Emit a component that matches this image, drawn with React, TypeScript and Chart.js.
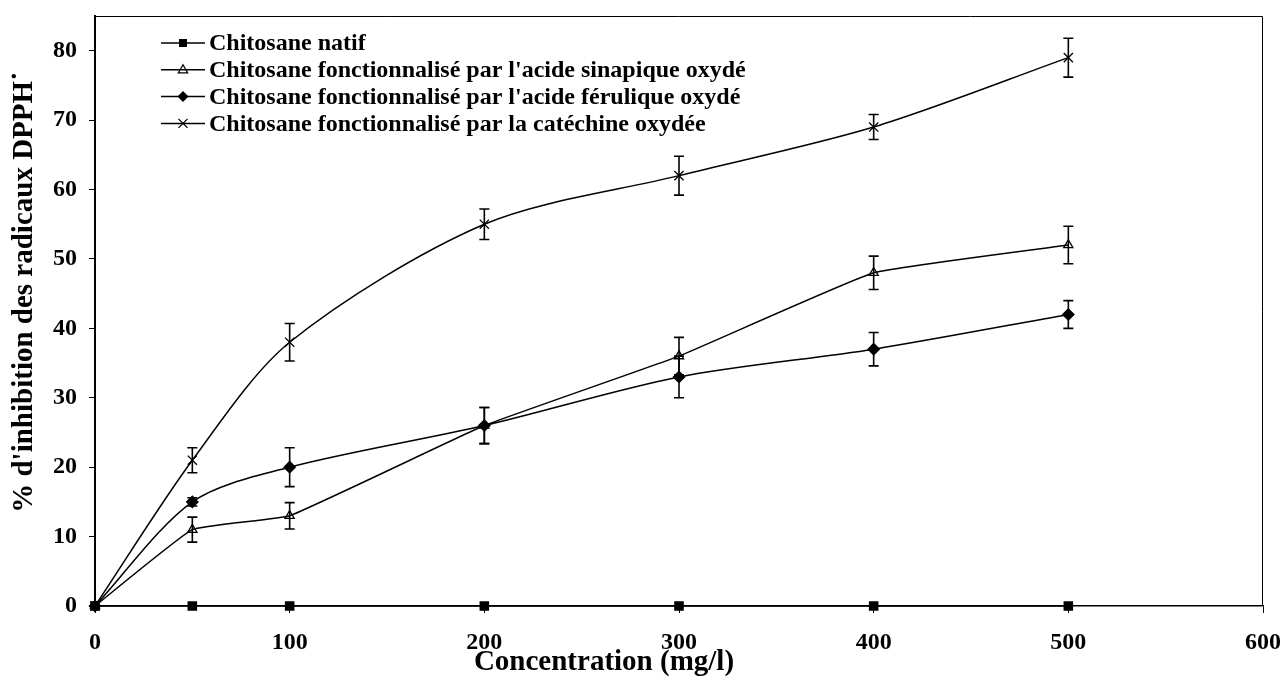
import React, { useEffect, useRef } from "react";
import { Chart, registerables } from "chart.js";

Chart.register(...registerables);

const concentrations = [0, 50, 100, 200, 300, 400, 500];

const natif = [0, 0, 0, 0, 0, 0, 0];
const sinapique = [0, 11, 13, 26, 36, 48, 52];
const ferulique = [0, 15, 20, 26, 33, 37, 42];
const catechine = [0, 21, 38, 55, 62, 69, 79];

const sinapiqueErr = [0, 1.8, 1.9, 2.6, 2.7, 2.4, 2.7];
const feruliqueErr = [0, 0.6, 2.8, 2.6, 3.0, 2.4, 2.0];
const catechineErr = [0, 1.8, 2.7, 2.2, 2.8, 1.8, 2.8];

const seriesNames = [
  "Chitosane natif",
  "Chitosane fonctionnalisé par l'acide sinapique oxydé",
  "Chitosane fonctionnalisé par l'acide férulique oxydé",
  "Chitosane fonctionnalisé par la catéchine oxydée",
];

const xTitle = "Concentration (mg/l)";
const yTitle = "% d'inhibition des radicaux DPPH˙";

const FONT = "'Liberation Serif', 'Times New Roman', serif";

function drawMarker(ctx: CanvasRenderingContext2D, style: string, x: number, y: number) {
  ctx.save();
  ctx.strokeStyle = "#000";
  ctx.fillStyle = "#000";
  ctx.lineWidth = 1.3;
  ctx.beginPath();
  if (style === "rect") {
    ctx.rect(x - 4, y - 4, 8, 8);
    ctx.fill();
  } else if (style === "triangle") {
    ctx.moveTo(x, y - 5);
    ctx.lineTo(x + 4.6, y + 3);
    ctx.lineTo(x - 4.6, y + 3);
    ctx.closePath();
    ctx.stroke();
  } else if (style === "rectRot") {
    ctx.moveTo(x, y - 5.5);
    ctx.lineTo(x + 5.5, y);
    ctx.lineTo(x, y + 5.5);
    ctx.lineTo(x - 5.5, y);
    ctx.closePath();
    ctx.fill();
  } else if (style === "crossRot") {
    ctx.moveTo(x - 4.5, y - 4.5);
    ctx.lineTo(x + 4.5, y + 4.5);
    ctx.moveTo(x + 4.5, y - 4.5);
    ctx.lineTo(x - 4.5, y + 4.5);
    ctx.stroke();
  }
  ctx.restore();
}

const customPlugin = {
  id: "customDecor",
  afterDatasetsDraw(chart: any) {
    const ctx: CanvasRenderingContext2D = chart.ctx;
    const { chartArea } = chart;
    // frame (top & right)
    ctx.save();
    ctx.strokeStyle = "#000";
    ctx.lineWidth = 1;
    ctx.beginPath();
    ctx.moveTo(chartArea.left, chartArea.top + 0.5);
    ctx.lineTo(chartArea.right - 0.5, chartArea.top + 0.5);
    ctx.lineTo(chartArea.right - 0.5, chartArea.bottom);
    ctx.stroke();
    ctx.restore();

    // error bars
    const xs = chart.scales.x;
    const ys = chart.scales.y;
    chart.data.datasets.forEach((ds: any) => {
      if (!ds.errors) return;
      ctx.save();
      ctx.strokeStyle = "#000";
      ctx.lineWidth = 1.6;
      ds.data.forEach((p: any, i: number) => {
        const e = ds.errors[i];
        if (!e) return;
        const px = xs.getPixelForValue(p.x);
        const top = ys.getPixelForValue(p.y + e);
        const bot = ys.getPixelForValue(p.y - e);
        ctx.beginPath();
        ctx.moveTo(px, top);
        ctx.lineTo(px, bot);
        ctx.moveTo(px - 5, top);
        ctx.lineTo(px + 5, top);
        ctx.moveTo(px - 5, bot);
        ctx.lineTo(px + 5, bot);
        ctx.stroke();
      });
      ctx.restore();
    });

    // legend
    ctx.save();
    chart.data.datasets.forEach((ds: any, i: number) => {
      const y = 43 + i * 26.8;
      ctx.strokeStyle = "#000";
      ctx.lineWidth = 1.5;
      ctx.beginPath();
      ctx.moveTo(161, y);
      ctx.lineTo(205, y);
      ctx.stroke();
      drawMarker(ctx, ds.pointStyle, 183, y);
      ctx.fillStyle = "#000";
      ctx.font = `bold 24px ${FONT}`;
      ctx.textAlign = "left";
      ctx.textBaseline = "middle";
      ctx.fillText(ds.label, 209, y + 1);
    });
    ctx.restore();

    // axis titles
    ctx.save();
    ctx.fillStyle = "#000";
    ctx.font = `bold 29px ${FONT}`;
    ctx.textAlign = "center";
    ctx.textBaseline = "middle";
    ctx.fillText(xTitle, 604, 663);
    ctx.translate(25, 292);
    ctx.rotate(-Math.PI / 2);
    ctx.fillText(yTitle, 0, 0);
    ctx.restore();
  },
};

function toPoints(vals: number[]) {
  return concentrations.map((c, i) => ({ x: c, y: vals[i] }));
}

export default function App() {
  const ref = useRef<HTMLCanvasElement | null>(null);
  useEffect(() => {
    document.body.style.margin = "0";
    const canvas = ref.current!;
    const chart = new Chart(canvas, {
      type: "line",
      data: {
        datasets: [
          {
            label: seriesNames[0],
            data: toPoints(natif),
            borderColor: "#000",
            backgroundColor: "#000",
            borderWidth: 1.5,
            pointStyle: "rect",
            pointRadius: 5.7,
            tension: 0,
            clip: false,
          } as any,
          {
            label: seriesNames[1],
            data: toPoints(sinapique),
            errors: sinapiqueErr,
            borderColor: "#000",
            backgroundColor: "rgba(0,0,0,0)",
            pointBorderWidth: 1.3,
            borderWidth: 1.5,
            pointStyle: "triangle",
            pointRadius: 5.3,
            tension: 0.1,
            clip: false,
          },
          {
            label: seriesNames[2],
            data: toPoints(ferulique),
            errors: feruliqueErr,
            borderColor: "#000",
            backgroundColor: "#000",
            borderWidth: 1.5,
            pointStyle: "rectRot",
            pointRadius: 5.5,
            tension: 0.3,
            clip: false,
          },
          {
            label: seriesNames[3],
            data: toPoints(catechine),
            errors: catechineErr,
            borderColor: "#000",
            backgroundColor: "#000",
            borderWidth: 1.5,
            pointBorderWidth: 1.3,
            pointStyle: "crossRot",
            pointRadius: 6.5,
            tension: 0.3,
            clip: false,
          },
        ],
      },
      options: {
        responsive: false,
        animation: false,
        devicePixelRatio: 1,
        layout: { padding: { top: 16, right: 21, left: 0, bottom: 0 } },
        plugins: {
          legend: { display: false },
          tooltip: { enabled: false },
        },
        scales: {
          x: {
            type: "linear",
            min: 0,
            max: 600,
            afterFit: (s: any) => {
              s.height = 74;
              s.paddingLeft = 0;
              s.paddingRight = 0;
            },
            ticks: {
              stepSize: 100,
              color: "#000",
              font: { family: FONT, size: 24, weight: "bold" },
              padding: 15,
              maxRotation: 0,
            },
            grid: {
              display: true,
              drawOnChartArea: false,
              drawTicks: true,
              tickLength: 7,
              color: "#000",
              lineWidth: 1,
            },
            border: { display: true, color: "#000", width: 1.5 },
          },
          y: {
            type: "linear",
            min: 0,
            max: 85,
            afterFit: (s: any) => {
              s.width = 95;
              s.paddingTop = 0;
              s.paddingBottom = 0;
            },
            ticks: {
              stepSize: 10,
              includeBounds: false,
              color: "#000",
              font: { family: FONT, size: 24, weight: "bold" },
              padding: 12,
            },
            grid: {
              display: true,
              drawOnChartArea: false,
              drawTicks: true,
              tickLength: 6,
              color: "#000",
              lineWidth: 1,
            },
            border: { display: true, color: "#000", width: 2 },
          },
        },
      } as any,
      plugins: [customPlugin],
    });
    return () => chart.destroy();
  }, []);
  return <canvas ref={ref} width={1284} height={680} style={{ display: "block" }} />;
}
